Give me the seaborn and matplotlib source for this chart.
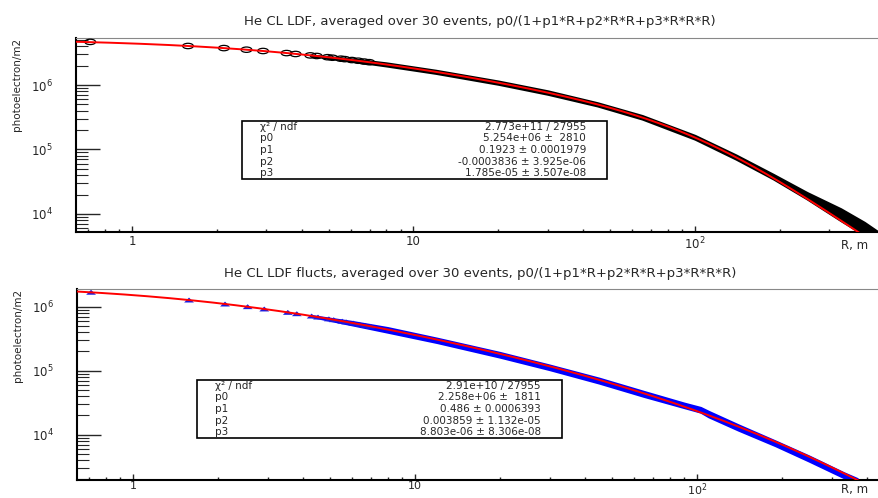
"""He CL LDF fits, two panels (ROOT-style)"""

import numpy as np
import matplotlib
matplotlib.use("Agg")
import matplotlib.pyplot as plt
import seaborn as sns
from matplotlib.path import Path
from matplotlib.patches import Rectangle

TITLE_TOP = "He CL LDF, averaged over 30 events, p0/(1+p1*R+p2*R*R+p3*R*R*R)"
TITLE_BOT = "He CL LDF flucts, averaged over 30 events, p0/(1+p1*R+p2*R*R+p3*R*R*R)"
Y_LABEL = "photoelectron/m2"
X_LABEL = "R, m"

X_TICKS = [1, 10, 100]
X_TICK_LABELS = ["1", "10", "$10^{2}$"]
Y_TICKS = [1e4, 1e5, 1e6]
Y_TICK_LABELS = ["$10^{4}$", "$10^{5}$", "$10^{6}$"]

# near-core detector distances (clearly separated markers)
r_points = [0.71, 1.58, 2.12, 2.55, 2.92, 3.54, 3.81, 4.30, 4.53, 4.95,
            5.15, 5.52, 5.70, 6.04, 6.36, 6.67, 6.96]
ldf_points = [4.66e6, 4.03e6, 3.74e6, 3.53e6, 3.37e6, 3.13e6, 3.03e6, 2.88e6,
              2.82e6, 2.70e6, 2.65e6, 2.56e6, 2.52e6, 2.44e6, 2.38e6, 2.31e6, 2.26e6]
flu_points = [1.68e6, 1.27e6, 1.10e6, 1.00e6, 9.2e5, 8.15e5, 7.76e5, 7.14e5,
              6.88e5, 6.45e5, 6.26e5, 5.94e5, 5.79e5, 5.54e5, 5.31e5, 5.11e5, 4.94e5]

# dense part: spread of the 30 events (lower / upper edge of the band)
r_band_top = [4.3, 6, 8, 12, 20, 30, 45, 65, 100, 140, 190, 250, 330, 400, 450]
ldf_lo = [2.85e6, 2.36e6, 1.98e6, 1.52e6, 1.03e6, 7.2e5, 4.75e5, 2.97e5,
          1.45e5, 7.1e4, 3.5e4, 1.72e4, 7.9e3, 4.7e3, 3.6e3]
ldf_hi = [2.92e6, 2.55e6, 2.2e6, 1.69e6, 1.15e6, 8.1e5, 5.3e5, 3.35e5,
          1.65e5, 8.2e4, 4.1e4, 2.15e4, 1.2e4, 7.4e3, 5.2e3]

r_band_bot = [4.3, 6, 8, 12, 20, 30, 45, 65, 90, 103, 110, 140, 190, 250, 330, 370]
flu_lo = [7.0e5, 5.2e5, 4.0e5, 2.75e5, 1.63e5, 1.04e5, 6.4e4, 3.95e4,
          2.65e4, 2.25e4, 1.9e4, 1.18e4, 6.7e3, 3.85e3, 2.15e3, 1.7e3]
flu_hi = [7.25e5, 5.85e5, 4.7e5, 3.2e5, 1.92e5, 1.22e5, 7.6e4, 4.7e4,
          3.1e4, 2.65e4, 2.3e4, 1.42e4, 7.9e3, 4.6e3, 2.55e3, 2.05e3]

# fit parameters p0..p3 (from the stat boxes)
fit_top = [5.254e6, 0.1923, -0.0003836, 1.785e-05]
fit_bot = [2.258e6, 0.486, 0.003859, 8.803e-06]

stats_top = [("\u03c7\u00b2 / ndf", "2.773e+11 / 27955"),
             ("p0", "5.254e+06 \u00b1  2810"),
             ("p1", "0.1923 \u00b1 0.0001979"),
             ("p2", "-0.0003836 \u00b1 3.925e-06"),
             ("p3", "1.785e-05 \u00b1 3.507e-08")]
stats_bot = [("\u03c7\u00b2 / ndf", "2.91e+10 / 27955"),
             ("p0", "2.258e+06 \u00b1  1811"),
             ("p1", "0.486 \u00b1 0.0006393"),
             ("p2", "0.003859 \u00b1 1.132e-05"),
             ("p3", "8.803e-06 \u00b1 8.306e-08")]

W, H = 879, 498


def ldf(r, p):
    return p[0] / (1 + p[1] * r + p[2] * r * r + p[3] * r * r * r)


# squashed ROOT markers (canvas was stretched horizontally)
_circ = Path.unit_circle()
ELLIPSE = Path(_circ.vertices * np.array([1.0, 0.5]), _circ.codes)
TRIANGLE = Path([(-1, -0.5), (1, -0.5), (0, 0.5), (-1, -0.5)],
                [Path.MOVETO, Path.LINETO, Path.LINETO, Path.CLOSEPOLY])


def style_axes(ax, xlim, ylim, xlab_y, xpad):
    ax.set_xscale("log")
    ax.set_yscale("log")
    ax.set_xlim(*xlim)
    ax.set_ylim(*ylim)
    ax.set_xticks(X_TICKS)
    ax.set_xticklabels(X_TICK_LABELS)
    ax.set_yticks(Y_TICKS)
    ax.set_yticklabels(Y_TICK_LABELS)
    ax.tick_params(axis="x", which="major", direction="in", length=4, width=1,
                   labelsize=8.5, pad=xpad, top=False)
    ax.tick_params(axis="x", which="minor", direction="in", length=2, width=1, top=False)
    ax.tick_params(axis="y", which="major", direction="in", length=17, width=1,
                   labelsize=8.5, pad=17, right=False)
    ax.tick_params(axis="y", which="minor", direction="in", length=8.5, width=0.8, right=False)
    ax.spines["right"].set_visible(False)
    ax.spines["top"].set_color("#888888")
    ax.spines["top"].set_linewidth(0.8)
    for side in ("left", "bottom"):
        ax.spines[side].set_linewidth(1.5)
        ax.spines[side].set_color("black")
    ax.set_ylabel(Y_LABEL, fontsize=7.5, loc="top")
    ax.yaxis.set_label_coords(-0.067, 1.0)
    ax.set_xlabel(X_LABEL, fontsize=8.5)
    ax.xaxis.set_label_coords(0.953, xlab_y)
    ax.xaxis.label.set_ha("left")
    ax.xaxis.label.set_va("center")


def stat_box(fig, left, top, right, bottom, rows):
    fig.patches.append(Rectangle((left / W, 1 - bottom / H), (right - left) / W,
                                 (bottom - top) / H, transform=fig.transFigure,
                                 facecolor="white", edgecolor="black", lw=1.2, zorder=5))
    row_h = (bottom - top) / len(rows)
    for i, (lab, val) in enumerate(rows):
        yc = 1 - (top + row_h * (i + 0.5)) / H
        fig.text((left + 18) / W, yc, lab, fontsize=7.5, ha="left", va="center", zorder=6)
        fig.text((right - 21) / W, yc, val, fontsize=7.5, ha="right", va="center", zorder=6)


def main():
    sns.set_style("ticks")
    plt.rcParams["font.family"] = ["DejaVu Sans"]
    plt.rcParams["mathtext.default"] = "regular"

    fig = plt.figure(figsize=(W / 100, H / 100), dpi=100)
    ax1 = fig.add_axes([76 / W, 1 - 232 / H, (W - 76) / W, 194 / H])
    ax2 = fig.add_axes([77 / W, 1 - 480 / H, (W - 77) / W, 191 / H])

    # top: LDF
    ax1.fill_between(r_band_top, ldf_lo, ldf_hi, color="black", lw=1.6, zorder=2)
    sns.scatterplot(x=r_points, y=ldf_points, ax=ax1, marker=ELLIPSE, s=60,
                    facecolor="none", edgecolor="black", linewidth=0.9, zorder=3)
    r_fit = np.geomspace(0.63, 450, 400)
    sns.lineplot(x=r_fit, y=ldf(r_fit, fit_top), ax=ax1, color="red", lw=1.4,
                 estimator=None, sort=False, zorder=4)
    style_axes(ax1, (0.632, 451), (5.25e3, 5.36e6), -0.07, 2.5)

    # bottom: fluctuations
    ax2.fill_between(r_band_bot, flu_lo, flu_hi, color="blue", lw=1.6, zorder=2)
    sns.scatterplot(x=r_points, y=flu_points, ax=ax2, marker=TRIANGLE, s=50,
                    color="#1a1ae0", edgecolor="none", zorder=3)
    sns.lineplot(x=r_fit, y=ldf(r_fit, fit_bot), ax=ax2, color="red", lw=1.4,
                 estimator=None, sort=False, zorder=4)
    style_axes(ax2, (0.633, 442), (1.95e3, 1.89e6), -0.05, 1.0)
    ax2.tick_params(axis="x", which="major", labelsize=8)

    fig.text(480 / W, 1 - 22 / H, TITLE_TOP, fontsize=9.5, ha="center", va="center")
    fig.text(480 / W, 1 - 273 / H, TITLE_BOT, fontsize=9.5, ha="center", va="center")

    stat_box(fig, 242, 121, 607, 179, stats_top)
    stat_box(fig, 197, 380, 562, 438, stats_bot)

    fig.savefig("out.png", dpi=100)
    plt.close(fig)


if __name__ == "__main__":
    main()
